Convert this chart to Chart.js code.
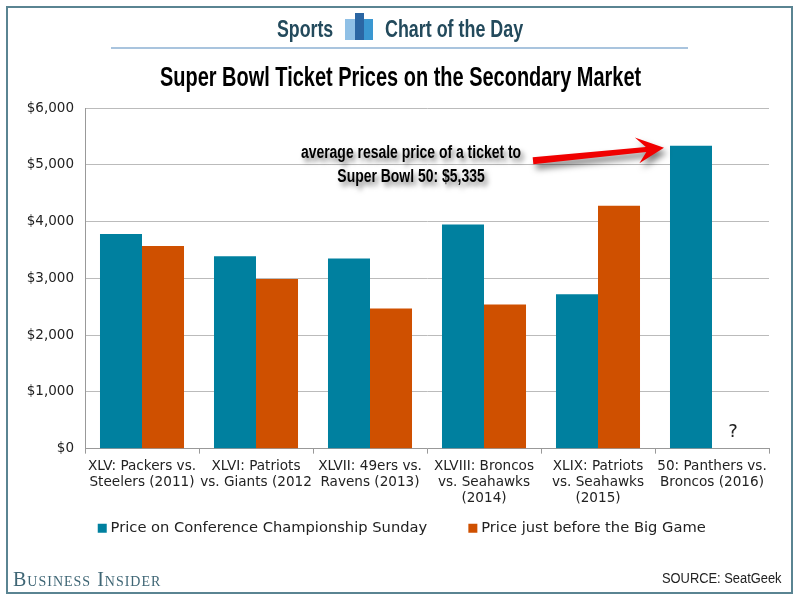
<!DOCTYPE html>
<html><head><meta charset="utf-8">
<script src="https://cdn.jsdelivr.net/npm/chart.js@4/dist/chart.umd.min.js"></script>
<style>
html,body{margin:0;padding:0;background:#fff;width:800px;height:600px;overflow:hidden}
#wrap{position:relative;width:800px;height:600px}
canvas{position:absolute;left:0;top:0}
#frame{position:absolute;left:6px;top:6px;width:783px;height:584px;border:2px solid #5a8492;box-sizing:content-box}
.t{position:absolute;white-space:nowrap;transform-origin:left center}
.bar{position:absolute}
</style></head><body>
<div id="wrap">
<canvas id="c" width="800" height="600"></canvas>
<div id="frame"></div>
<div class="t" style="left:277px;top:15px;font:bold 24px 'Liberation Sans';color:#234a5c;transform:scaleX(.74)">Sports</div>
<div class="bar" style="left:345px;top:19px;width:14px;height:21px;background:#8fc0e6"></div>
<div class="bar" style="left:359px;top:19px;width:14px;height:21px;background:#3a97d1"></div>
<div class="bar" style="left:355px;top:13px;width:9px;height:27px;background:#2b66a3"></div>
<div class="t" style="left:385px;top:15px;font:bold 24px 'Liberation Sans';color:#234a5c;transform:scaleX(.745)">Chart of the Day</div>
<div class="bar" style="left:111px;top:47px;width:577px;height:2px;background:#a9c4de"></div>
<div class="t" style="left:160px;top:61px;font:bold 28px 'Liberation Sans';color:#000;transform:scaleX(.713)">Super Bowl Ticket Prices on the Secondary Market</div>
<div class="t" style="left:13px;top:568px;font:20px 'Liberation Serif';font-variant:small-caps;letter-spacing:1px;color:#3f6675">Business Insider</div>
<div class="t" style="left:662px;top:570px;font:14px 'Liberation Sans';color:#222;transform:scaleX(.92)">SOURCE: SeatGeek</div>
</div>
<script>
const categories=[["XLV: Packers vs.","Steelers (2011)"],["XLVI: Patriots","vs. Giants (2012"],["XLVII: 49ers vs.","Ravens (2013)"],["XLVIII: Broncos","vs. Seahawks","(2014)"],["XLIX: Patriots","vs. Seahawks","(2015)"],["50: Panthers vs.","Broncos (2016)"]];
const conferenceSunday=[3780,3390,3350,3950,2720,5335];
const beforeGame=[3570,2990,2470,2540,4280,null];
const seriesNames=["Price on Conference Championship Sunday","Price just before the Big Game"];
const noteLines=["average resale price of a ticket to","Super Bowl 50: $5,335"];
const unknownMark="?";
const teal="#00809f",orange="#cf5000";
const annot={id:"annot",
 afterLayout(ch){const l=ch.legend;l.left+=19;l.right+=19;l.top=527-6-44.65;l.bottom=l.top+l.height;},
 afterDatasetsDraw(ch){
  const c=ch.ctx,b0=ch.getDatasetMeta(0).data[5],b1=ch.getDatasetMeta(1).data[5],y=ch.scales.y;
  c.save();
  c.font="18px DejaVu Sans";c.fillStyle="#222";c.textAlign="center";c.textBaseline="middle";
  c.fillText(unknownMark,b1.x,y.getPixelForValue(290));
  const tipX=b0.x-b0.width/2-6,tipY=b0.y+2,sx=tipX-131,sy=tipY+13;
  const ang=Math.atan2(tipY-sy,tipX-sx);
  c.translate(sx,sy);c.rotate(ang);
  const L=Math.hypot(tipX-sx,tipY-sy);
  c.shadowColor="rgba(0,0,0,.5)";c.shadowBlur=6;c.shadowOffsetX=3;c.shadowOffsetY=5;
  c.fillStyle="#f00000";c.beginPath();
  c.moveTo(0,-3.5);c.lineTo(L-18,-2.5);c.lineTo(L-28,-13);c.lineTo(L,0);c.lineTo(L-26,13);c.lineTo(L-18,2.5);c.lineTo(0,3.5);c.closePath();c.fill();
  c.restore();
  c.save();
  c.shadowColor="rgba(0,0,0,.5)";c.shadowBlur=5;c.shadowOffsetX=3;c.shadowOffsetY=4;
  c.fillStyle="#000";c.textAlign="center";c.textBaseline="middle";
  c.font="bold 18px 'Liberation Sans'";
  const cx=411;
  [[5206,0],[4782,1]].forEach(([v,i])=>{c.save();c.translate(cx,y.getPixelForValue(v));c.scale(.775,1);c.fillText(noteLines[i],0,0);c.restore();});
  c.restore();
}};
new Chart(document.getElementById("c"),{type:"bar",plugins:[annot],
data:{labels:categories,datasets:[
 {label:seriesNames[0],data:conferenceSunday,backgroundColor:teal,borderWidth:0},
 {label:seriesNames[1],data:beforeGame,backgroundColor:orange,borderWidth:0}]},
options:{responsive:false,animation:false,devicePixelRatio:1,
 layout:{padding:{left:0,right:31,top:108,bottom:14}},
 datasets:{bar:{barPercentage:1,categoryPercentage:0.737}},
 plugins:{tooltip:{enabled:false},title:{display:false},
  legend:{position:"bottom",labels:{usePointStyle:true,pointStyle:"rect",boxWidth:2,boxHeight:9,padding:44.65,color:"#222",font:{family:"DejaVu Sans",size:14.7}}}},
 scales:{
  x:{afterFit(s){s.height=68},grid:{display:true,drawOnChartArea:false,color:"#999",tickLength:5},border:{color:"#999"},
     ticks:{maxRotation:0,autoSkip:false,color:"#222",padding:5,font:{family:"DejaVu Sans",size:13.6,lineHeight:1.18}}},
  y:{min:0,max:6000,afterFit(s){s.width=85},grid:{color:"#bbb",drawTicks:false,tickLength:0},border:{color:"#999"},
     ticks:{stepSize:1000,color:"#222",padding:11,font:{family:"DejaVu Sans",size:13.5},callback:v=>"$"+v.toLocaleString("en-US")}}
 }}});
</script></body></html>
